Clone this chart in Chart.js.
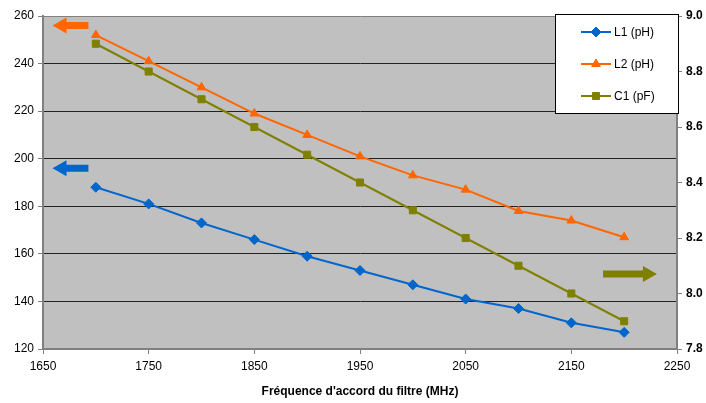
<!DOCTYPE html>
<html>
<head>
<meta charset="utf-8">
<script src="https://cdn.jsdelivr.net/npm/chart.js@4/dist/chart.umd.min.js"></script>
<style>
  html, body { margin: 0; padding: 0; background: #fff; }
  #wrap { width: 706px; height: 403px; }
</style>
</head>
<body>
<div id="wrap"><canvas id="chart" width="706" height="403"></canvas></div>
<script>
const frequencies = [1700, 1750, 1800, 1850, 1900, 1950, 2000, 2050, 2100, 2150, 2200];
const l1Values = [188, 181, 173, 166, 159, 153, 147, 141, 137, 131, 127];
const l2Values = [252, 241, 230, 219, 210, 201, 193, 187, 178, 174, 167];
const c1Values = [8.9, 8.8, 8.7, 8.6, 8.5, 8.4, 8.3, 8.2, 8.1, 8.0, 7.9];
const seriesLabels = ['L1 (pH)', 'L2 (pH)', 'C1 (pF)'];
const xTitle = "Fréquence d'accord du filtre (MHz)";

const FONT = '"Liberation Sans", Arial, sans-serif';
const BLUE = '#0066CC', ORANGE = '#FF6600', OLIVE = '#808000';

const toPoints = (vals) => vals.map((v, i) => ({ x: frequencies[i], y: v }));

const plotBg = {
    id: 'plotBg',
    beforeDraw(chart) {
        const { ctx, chartArea: a } = chart;
        ctx.save();
        ctx.fillStyle = '#C0C0C0';
        ctx.fillRect(a.left, a.top, a.right - a.left, a.bottom - a.top);
        ctx.restore();
    }
};

function arrow(ctx, x1, x2, y, color) {
    // shaft + head, pointing from x1 to x2
    const dir = Math.sign(x2 - x1);
    const headLen = 14, headHalf = 8, shaftHalf = 3.5;
    ctx.save();
    ctx.fillStyle = color;
    ctx.beginPath();
    ctx.moveTo(x1, y - shaftHalf);
    ctx.lineTo(x2 - dir * headLen, y - shaftHalf);
    ctx.lineTo(x2 - dir * headLen, y - headHalf);
    ctx.lineTo(x2, y);
    ctx.lineTo(x2 - dir * headLen, y + headHalf);
    ctx.lineTo(x2 - dir * headLen, y + shaftHalf);
    ctx.lineTo(x1, y + shaftHalf);
    ctx.closePath();
    ctx.fill();
    ctx.restore();
}

const extras = {
    id: 'extras',
    afterDraw(chart) {
        const { ctx, scales } = chart;
        const x = scales.x, yl = scales.y, yr = scales.y2;
        // axis arrows
        arrow(ctx, x.getPixelForValue(1693), x.getPixelForValue(1659), yl.getPixelForValue(256), ORANGE);
        arrow(ctx, x.getPixelForValue(1693), x.getPixelForValue(1659), yl.getPixelForValue(196), BLUE);
        arrow(ctx, x.getPixelForValue(2180), x.getPixelForValue(2231), yr.getPixelForValue(8.07), OLIVE);

        // legend box
        const a = chart.chartArea;
        const bx = a.right - 122, by = a.top - 2, bw = 123, bh = 99;
        ctx.save();
        ctx.fillStyle = '#fff';
        ctx.fillRect(bx, by, bw, bh);
        ctx.strokeStyle = '#000';
        ctx.lineWidth = 1;
        ctx.strokeRect(bx + 0.5, by + 0.5, bw, bh);
        ctx.font = '12px ' + FONT;
        ctx.textBaseline = 'middle';
        chart.data.datasets.forEach((ds, i) => {
            const ly = by + 18 + i * 32;
            const lx = bx + 26;
            ctx.strokeStyle = ds.borderColor;
            ctx.lineWidth = 2;
            ctx.beginPath();
            ctx.moveTo(lx, ly);
            ctx.lineTo(lx + 30, ly);
            ctx.stroke();
            ctx.fillStyle = ds.borderColor;
            ctx.lineWidth = 1;
            Chart.helpers.drawPoint(ctx, {
                pointStyle: ds.pointStyle, radius: ds.pointRadius, borderWidth: 1
            }, lx + 15, ly);
            ctx.fillStyle = '#000';
            ctx.fillText(ds.label, lx + 33, ly + 1);
        });
        ctx.restore();
    }
};

const ctx = document.getElementById('chart').getContext('2d');
const chart = new Chart(ctx, {
    type: 'line',
    data: {
        datasets: [
            { label: seriesLabels[0], data: toPoints(l1Values), yAxisID: 'y',
              borderColor: BLUE, backgroundColor: BLUE, borderWidth: 2,
              pointStyle: 'rectRot', pointRadius: 5, pointBorderWidth: 1 },
            { label: seriesLabels[1], data: toPoints(l2Values), yAxisID: 'y',
              borderColor: ORANGE, backgroundColor: ORANGE, borderWidth: 2,
              pointStyle: 'triangle', pointRadius: 5, pointBorderWidth: 1 },
            { label: seriesLabels[2], data: toPoints(c1Values), yAxisID: 'y2',
              borderColor: OLIVE, backgroundColor: OLIVE, borderWidth: 2,
              pointStyle: 'rect', pointRadius: 5, pointBorderWidth: 1 }
        ]
    },
    options: {
        responsive: false,
        animation: false,
        layout: { padding: { top: 16, left: 0, right: 0, bottom: 0 } },
        plugins: { legend: { display: false }, tooltip: { enabled: false } },
        scales: {
            x: {
                type: 'linear', min: 1650, max: 2250,
                ticks: { stepSize: 100, color: '#000', font: { family: FONT, size: 12 }, padding: 5,
                         callback: v => String(v) },
                grid: { drawOnChartArea: false, tickLength: 5, color: '#808080' },
                border: { color: '#808080', width: 2 },
                title: { display: true, text: xTitle, color: '#000',
                         font: { family: FONT, size: 12, weight: 'bold' }, padding: { top: 10 } },
                afterFit(s) { s.height = 54; }
            },
            y: {
                position: 'left', min: 120, max: 260,
                ticks: { stepSize: 20, color: '#000', font: { family: FONT, size: 12 }, padding: 4 },
                grid: { color: ctx => ctx.tick && (ctx.tick.value === 120 || ctx.tick.value === 260) ? '#808080' : '#222',
                        lineWidth: 1, tickLength: 5, tickColor: '#808080' },
                border: { color: '#808080', width: 2 },
                afterFit(s) { s.width = 43; }
            },
            y2: {
                position: 'right', min: 7.8, max: 9.0,
                ticks: { stepSize: 0.2, color: '#000', font: { family: FONT, size: 12, weight: 'bold' }, padding: 4,
                         callback: v => v.toFixed(1) },
                grid: { drawOnChartArea: false, tickLength: 5, color: '#808080' },
                border: { color: '#808080', width: 2 },
                afterFit(s) { s.width = 29; }
            }
        }
    },
    plugins: [plotBg, extras]
});
</script>
</body>
</html>
